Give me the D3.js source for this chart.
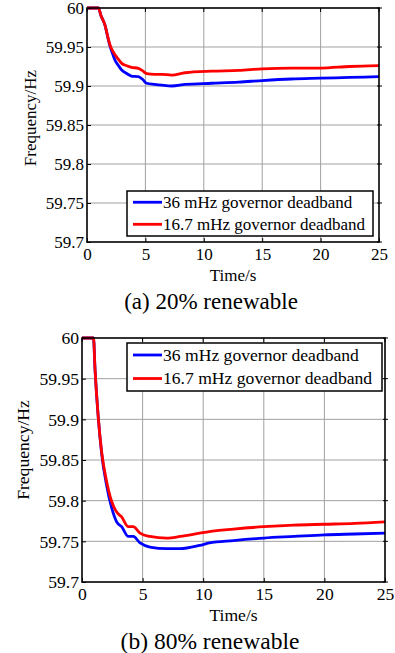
<!DOCTYPE html>
<html>
<head>
<meta charset="utf-8">
<script src="https://cdn.jsdelivr.net/npm/d3@7"></script>
<style>
  html, body { margin: 0; padding: 0; background: #fff; }
  svg { display: block; }
</style>
</head>
<body>
<svg id="chart" width="395" height="653"></svg>
<script>
// ---------- data ----------
const seriesNames = ["36 mHz governor deadband", "16.7 mHz governor deadband"];
const seriesColors = ["#0000ff", "#ff0000"];
const xTicks = [0, 5, 10, 15, 20, 25];
const yTicks = [59.7, 59.75, 59.8, 59.85, 59.9, 59.95, 60];
const yTickLabels = ["59.7", "59.75", "59.8", "59.85", "59.9", "59.95", "60"];
const panelTitles = ["(a) 20% renewable", "(b) 80% renewable"];

// Panel (a): 20% renewable
const timeA  = [0, 0.97, 1.2, 1.54, 1.8, 1.97, 2.2, 2.4, 2.7, 2.97, 3.4, 3.8, 4.4, 4.8, 5.1, 5.8, 6.4, 7.25, 8.4, 10.7, 13, 15, 17.5, 20, 22.5, 25];
const blueA  = [60, 60, 59.99, 59.978, 59.961, 59.951, 59.941, 59.933, 59.926, 59.9205, 59.916, 59.9128, 59.912, 59.908, 59.9035, 59.902, 59.901, 59.900, 59.902, 59.9035, 59.905, 59.907, 59.909, 59.910, 59.911, 59.912];
const redA   = [60, 60, 59.99, 59.978, 59.962, 59.9526, 59.945, 59.940, 59.934, 59.929, 59.926, 59.924, 59.9227, 59.919, 59.916, 59.915, 59.915, 59.914, 59.917, 59.919, 59.920, 59.922, 59.923, 59.923, 59.925, 59.926];

// Panel (b): 80% renewable
const timeB  = [0, 0.95, 1.07, 1.35, 1.62, 2.04, 2.45, 2.86, 3.27, 3.82, 4.23, 4.79, 5.6, 7.0, 8.1, 9.7, 10.5, 12.5, 15, 17.5, 20, 22.5, 25];
const blueB  = [60, 60, 59.963, 59.901, 59.858, 59.818, 59.791, 59.774, 59.768, 59.756, 59.756, 59.748, 59.743, 59.741, 59.741, 59.745, 59.748, 59.751, 59.754, 59.756, 59.758, 59.759, 59.760];
const redB   = [60, 60, 59.963, 59.901, 59.860, 59.823, 59.799, 59.786, 59.780, 59.768, 59.768, 59.760, 59.756, 59.754, 59.756, 59.760, 59.762, 59.765, 59.768, 59.770, 59.771, 59.772, 59.774];

// ---------- layout ----------
const FONT = '"Liberation Serif"';
const panels = [
  { time: timeA, series: [blueA, redA], title: panelTitles[0],
    L: 87, T: 8, R: 379, B: 242, fs: 17, titleFs: 23,
    legend: { x: 127, y: 191, w: 246, h: 45 }, ylabX: 30, ylabY: 118, titleX: 211 },
  { time: timeB, series: [blueB, redB], title: panelTitles[1],
    L: 82, T: 338, R: 385, B: 582, fs: 17.6, titleFs: 23.5,
    legend: { x: 127, y: 343, w: 255, h: 48 }, ylabX: 23, ylabY: 450, titleX: 210 }
];

const svg = d3.select("#chart");

function styleText(sel, size) {
  return sel.style("font-family", FONT).attr("font-size", size).attr("fill", "#000");
}

panels.forEach(p => {
  const g = svg.append("g");
  const x = d3.scaleLinear().domain([0, 25]).range([p.L, p.R]);
  const y = d3.scaleLinear().domain([59.7, 60]).range([p.B, p.T]);

  // grid
  g.append("g").selectAll("line").data(xTicks.slice(1, -1)).join("line")
    .attr("x1", d => x(d)).attr("x2", d => x(d)).attr("y1", p.T).attr("y2", p.B)
    .attr("stroke", "#a0a0a0").attr("stroke-width", 1);
  g.append("g").selectAll("line").data(yTicks.slice(1, -1)).join("line")
    .attr("y1", d => y(d)).attr("y2", d => y(d)).attr("x1", p.L).attr("x2", p.R)
    .attr("stroke", "#a0a0a0").attr("stroke-width", 1);

  // lines
  const line = d3.line().x((d, i) => x(p.time[i])).y(d => y(d)).curve(d3.curveMonotoneX);
  p.series.forEach((s, k) => {
    g.append("path").datum(s).attr("d", line)
      .attr("fill", "none").attr("stroke", seriesColors[k])
      .attr("stroke-width", 2.8).attr("stroke-linejoin", "round");
  });

  // axes (bottom, left) via d3 axes, inner ticks
  const xAxis = d3.axisBottom(x).tickValues(xTicks).tickSize(-4).tickFormat(d3.format("d"));
  const yAxis = d3.axisLeft(y).tickValues(yTicks).tickSize(-4).tickFormat((d, i) => yTickLabels[i]);

  const gx = g.append("g").attr("transform", `translate(0,${p.B})`).call(xAxis);
  gx.attr("font-family", null).attr("font-size", null);
  gx.select(".domain").remove();
  gx.selectAll("line").attr("stroke", "#000");
  styleText(gx.selectAll("text"), p.fs).attr("dy", null).attr("y", 18);

  const gy = g.append("g").attr("transform", `translate(${p.L},0)`).call(yAxis);
  gy.attr("font-family", null).attr("font-size", null);
  gy.select(".domain").remove();
  gy.selectAll("line").attr("stroke", "#000");
  styleText(gy.selectAll("text"), p.fs).attr("x", -3).attr("dy", "0.33em");

  // top and right ticks
  g.append("g").selectAll("line").data(xTicks).join("line")
    .attr("x1", d => x(d)).attr("x2", d => x(d)).attr("y1", p.T).attr("y2", p.T + 4)
    .attr("stroke", "#000");
  g.append("g").selectAll("line").data(yTicks).join("line")
    .attr("y1", d => y(d)).attr("y2", d => y(d)).attr("x1", p.R - 2).attr("x2", p.R + 3)
    .attr("stroke", "#000");

  // box
  g.append("rect").attr("x", p.L).attr("y", p.T).attr("width", p.R - p.L).attr("height", p.B - p.T)
    .attr("fill", "none").attr("stroke", "#000").attr("stroke-width", 1.6);

  // legend
  const lg = g.append("g");
  lg.append("rect").attr("x", p.legend.x).attr("y", p.legend.y)
    .attr("width", p.legend.w).attr("height", p.legend.h)
    .attr("fill", "#fff").attr("stroke", "#000").attr("stroke-width", 1.5);
  seriesNames.forEach((name, k) => {
    const cy = p.legend.y + p.legend.h * (k === 0 ? 0.25 : 0.74);
    lg.append("line").attr("x1", p.legend.x + 6).attr("x2", p.legend.x + 35)
      .attr("y1", cy).attr("y2", cy).attr("stroke", seriesColors[k]).attr("stroke-width", 2.8);
    styleText(lg.append("text"), p.fs).attr("x", p.legend.x + 36).attr("y", cy).attr("dy", "0.33em").text(name);
  });

  // axis labels
  styleText(g.append("text"), p.fs).attr("x", (p.L + p.R) / 2).attr("y", p.B + 39)
    .attr("text-anchor", "middle").text("Time/s");
  styleText(g.append("text"), p.fs).attr("transform", `translate(${p.ylabX + 6},${p.ylabY}) rotate(-90)`)
    .attr("text-anchor", "middle").text("Frequency/Hz");

  // panel caption
  styleText(g.append("text"), p.titleFs).attr("x", p.titleX).attr("y", p.B + 67)
    .attr("text-anchor", "middle").text(p.title);
});
</script>
</body>
</html>
